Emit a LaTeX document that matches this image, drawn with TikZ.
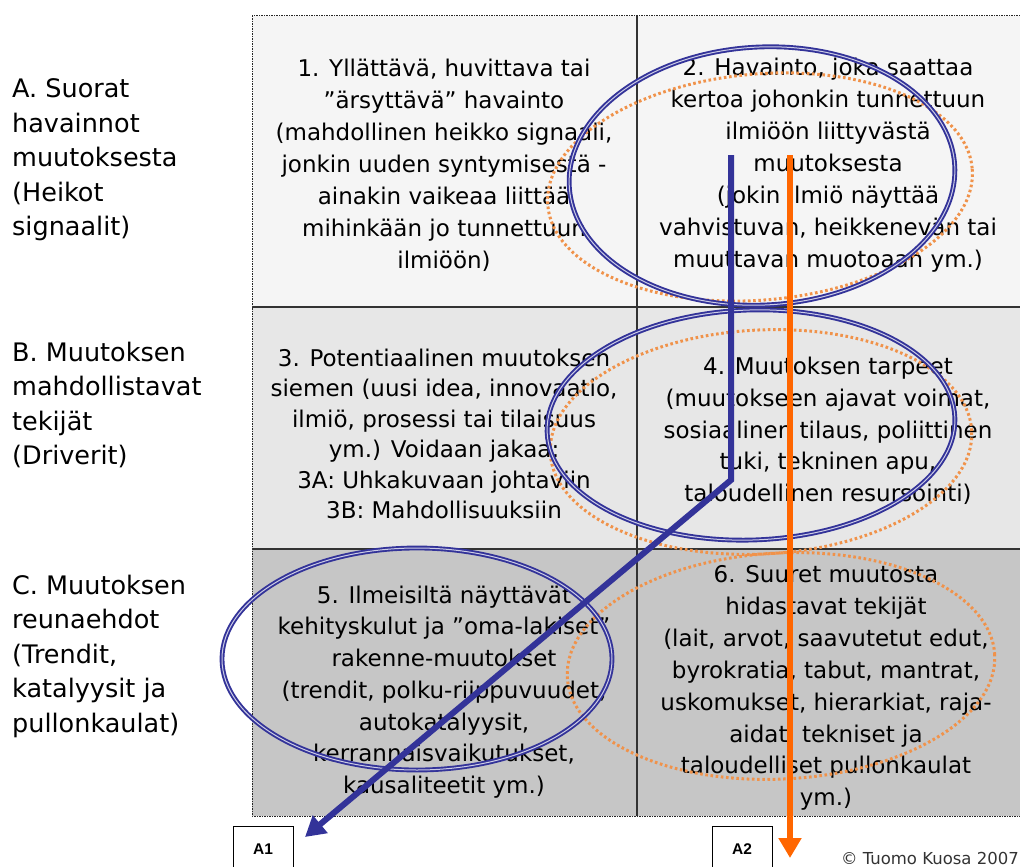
\documentclass[tikz,border=0pt]{standalone}
\usepackage{fontspec}
\setmainfont{DejaVu Sans}
\newfontfamily\tagfont{Liberation Sans}
\usetikzlibrary{arrows.meta, positioning}
\definecolor{rowA}{HTML}{F5F5F5}
\definecolor{rowB}{HTML}{E7E7E7}
\definecolor{rowC}{HTML}{C6C6C6}
\definecolor{navy}{HTML}{333399}
\definecolor{flame}{HTML}{FF6600}
\definecolor{peach}{HTML}{F0924A}
\tikzset{
  x=1pt, y=-1pt, % one unit is one pixel of the picture
  cell/.style={align=center, inner sep=0pt, font=\fontsize{23}{32}\selectfont}, % text in the six fields
  rowlabel/.style={align=left, anchor=west, inner sep=0pt, font=\fontsize{25.5}{34.5}\selectfont}, % A, B, C on the left
  tag/.style={draw, thin, fill=white, minimum width=60pt, minimum height=46pt, anchor=north, font=\tagfont\bfseries\fontsize{15.5}{17}\selectfont},
  blueloop/.style={draw=navy, line width=1.9pt, double=navy!25!white, double distance=1pt},
  orangeloop/.style={draw=peach, line width=3pt, dash pattern=on 2.6pt off 2.6pt},
  flow/.style={line width=6pt, -{Triangle[length=20pt, width=22pt]}},
}

\begin{document}
\begin{tikzpicture}
  \useasboundingbox (0,0) rectangle (1020,867);
  % the three rows
  \fill[rowA] (252,16) rectangle (1020,307);
  \fill[rowB] (252,307) rectangle (1020,549);
  \fill[rowC] (252,549) rectangle (1020,816);
  \draw[gray!30!black, line width=1pt, dash pattern=on 1.5pt off 1pt] (1020,16) -- (252,16) -- (252,816) -- (1020,816);
  \draw[gray!40!black, line width=1.2pt] (252,307) -- (1020,307) (252,549) -- (1020,549) (637,16) -- (637,816);

  \node[rowlabel] (A) at (12,160) {A. Suorat\\havainnot\\muutoksesta\\(Heikot\\signaalit)};
  \node[rowlabel] (B) at (12,405) {B. Muutoksen\\mahdollistavat\\tekijät\\(Driverit)};
  \node[rowlabel] (C) at (12,656) {C. Muutoksen\\reunaehdot\\(Trendit,\\katalyysit ja\\pullonkaulat)};

  \node[cell] (1) at (444,165) {1. Yllättävä, huvittava tai\\”ärsyttävä” havainto\\(mahdollinen heikko signaali,\\jonkin uuden syntymisestä -\\ainakin vaikeaa liittää\\mihinkään jo tunnettuun\\ilmiöön)};
  \node[cell] (2) at (828,165) {2. Havainto, joka saattaa\\kertoa johonkin tunnettuun\\ilmiöön liittyvästä\\muutoksesta\\(jokin ilmiö näyttää\\vahvistuvan, heikkenevän tai\\muuttavan muotoaan ym.)};
  \node[cell, font=\fontsize{23}{30.4}\selectfont] (3) at (444,434) {3. Potentiaalinen muutoksen\\siemen (uusi idea, innovaatio,\\ilmiö, prosessi tai tilaisuus\\ym.) Voidaan jakaa:\\3A: Uhkakuvaan johtaviin\\3B: Mahdollisuuksiin};
  \node[cell, font=\fontsize{23}{31.7}\selectfont] (4) at (828,431) {4. Muutoksen tarpeet\\(muutokseen ajavat voimat,\\sosiaalinen tilaus, poliittinen\\tuki, tekninen apu,\\taloudellinen resursointi)};
  \node[cell, font=\fontsize{23}{31.7}\selectfont] (5) at (444,692) {5. Ilmeisiltä näyttävät\\kehityskulut ja ”oma-lakiset”\\rakenne-muutokset\\(trendit, polku-riippuvuudet,\\autokatalyysit,\\kerrannaisvaikutukset,\\kausaliteetit ym.)};
  \node[cell, font=\fontsize{23}{31.9}\selectfont] (6) at (826,688) {6. Suuret muutosta\\hidastavat tekijät\\(lait, arvot, saavutetut edut,\\byrokratia, tabut, mantrat,\\uskomukset, hierarkiat, raja-\\aidat, tekniset ja\\taloudelliset pullonkaulat\\ym.)};

  % circled fields
  \draw[orangeloop] (760,187) ellipse [x radius=213pt, y radius=113pt, rotate=5];
  \draw[blueloop] (762,176) ellipse [x radius=193pt, y radius=129pt, rotate=3];
  \draw[orangeloop] (761,442) ellipse [x radius=211pt, y radius=112pt, rotate=3];
  \draw[blueloop] (751,425) ellipse [x radius=204pt, y radius=115pt, rotate=2];
  \draw[orangeloop] (781,666) ellipse [x radius=214pt, y radius=113pt, rotate=3];
  \draw[blueloop] (417,659) ellipse [x radius=195pt, y radius=111pt];

  \node[tag] (A1) at (263,826) {A1};
  \node[tag] (A2) at (742,826) {A2};
  \node[anchor=base east, inner sep=0pt, text=black!80, font=\fontsize{16.5}{18}\selectfont] (copy) at (1019,864) {© Tuomo Kuosa 2007};

  % the two paths
  \coordinate (b0) at (731,155);
  \coordinate (b1) at (731,480);
  \coordinate (b2) at (305,837);
  \coordinate (o0) at (790,155);
  \coordinate (o1) at (790,858);
  \draw[flow, navy] (b0) -- (b1) -- (b2);
  \draw[flow, flame] (o0) -- (o1);
\end{tikzpicture}
\end{document}
